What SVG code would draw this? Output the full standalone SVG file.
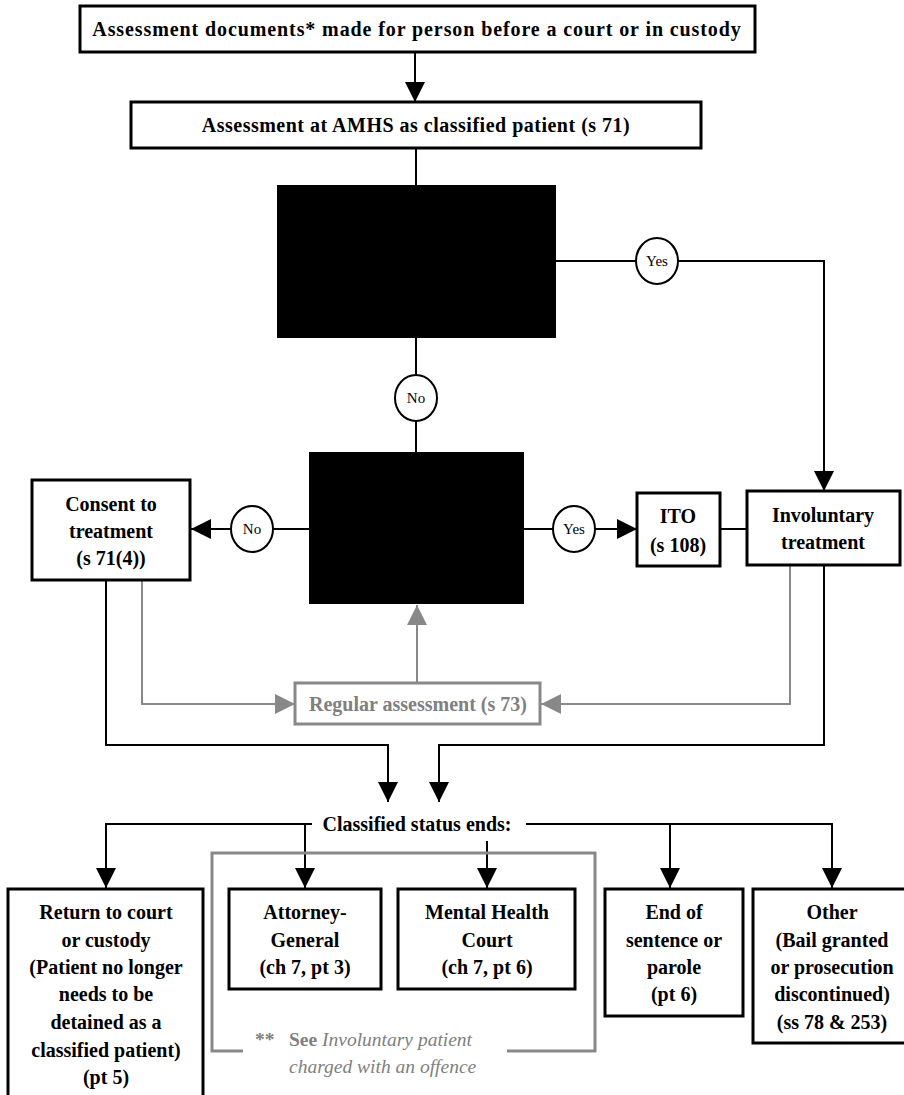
<svg xmlns="http://www.w3.org/2000/svg" width="904" height="1095" viewBox="0 0 904 1095">
<defs>
<style>
.box{fill:#fff;stroke:#000;stroke-width:3}
.gbox{fill:#fff;stroke:#888;stroke-width:3}
.blk{fill:#000;stroke:none}
.t{font-family:"Liberation Serif","Times New Roman",serif;font-weight:bold;font-size:20px;fill:#000;text-anchor:middle}
.gt{font-family:"Liberation Serif","Times New Roman",serif;font-weight:bold;font-size:20px;fill:#808080;text-anchor:middle}
.ot{font-family:"Liberation Serif","Times New Roman",serif;font-size:15px;fill:#000;text-anchor:middle}
.oval{fill:#fff;stroke:#000;stroke-width:2}
.ln{fill:none;stroke:#000;stroke-width:2}
.gln{fill:none;stroke:#888;stroke-width:2}
.note{font-family:"Liberation Serif","Times New Roman",serif;font-size:19.5px;fill:#808080}
</style>
<marker id="ahb" viewBox="0 0 10 10" refX="10" refY="5" markerWidth="20" markerHeight="20" markerUnits="userSpaceOnUse" orient="auto"><path d="M0,0 L10,5 L0,10 Z" fill="#000"/></marker>
<marker id="ahg" viewBox="0 0 10 10" refX="10" refY="5" markerWidth="20" markerHeight="20" markerUnits="userSpaceOnUse" orient="auto"><path d="M0,0 L10,5 L0,10 Z" fill="#888"/></marker>
</defs>
<rect width="904" height="1095" fill="#fff"/>

<g id="connectors">
<path class="ln" d="M415,52 V102" marker-end="url(#ahb)"/>
<path class="ln" d="M416,148 V185"/>
<path class="ln" d="M556,261 H824 V491" marker-end="url(#ahb)"/>
<path class="ln" d="M416,338 V452"/>
<path class="ln" d="M309,529 H191" marker-end="url(#ahb)"/>
<path class="ln" d="M524,529 H637" marker-end="url(#ahb)"/>
<path class="ln" d="M720,529 H747"/>
<path class="gln" d="M142,581 V704 H295" marker-end="url(#ahg)"/>
<path class="gln" d="M790,565 V704 H541" marker-end="url(#ahg)"/>
<path class="gln" d="M417,683 V605" marker-end="url(#ahg)"/>
<path class="ln" d="M106,581 V745 H388 V802" marker-end="url(#ahb)"/>
<path class="ln" d="M824,565 V745 H439 V802" marker-end="url(#ahb)"/>
<path class="ln" d="M312,824 H106 V888" marker-end="url(#ahb)"/>
<path class="ln" d="M305,824 V888" marker-end="url(#ahb)"/>
<path class="ln" d="M487,841 V888" marker-end="url(#ahb)"/>
<path class="ln" d="M526,824 H832 V888" marker-end="url(#ahb)"/>
<path class="ln" d="M670,824 V888" marker-end="url(#ahb)"/>
<path fill="none" stroke="#888" stroke-width="3" d="M243,1051 H212 V853 H595 V1051 H507"/>
</g>

<g id="n-top"><rect class="box" x="80" y="6" width="675" height="46"/><text class="t" x="417" y="36" letter-spacing="0.9">Assessment documents* made for person before a court or in custody</text></g>
<g id="n-amhs"><rect class="box" x="131" y="102" width="570" height="46"/><text class="t" x="416" y="132" letter-spacing="0.5">Assessment at AMHS as classified patient  (s 71)</text></g>
<g id="n-decision1"><rect class="blk" x="277" y="185" width="279" height="153"/></g>
<g id="n-yes1"><ellipse class="oval" cx="657" cy="261" rx="21" ry="23"/><text class="ot" x="657" y="266">Yes</text></g>
<g id="n-no1"><ellipse class="oval" cx="416" cy="398" rx="21" ry="23"/><text class="ot" x="416" y="403">No</text></g>
<g id="n-decision2"><rect class="blk" x="309" y="452" width="215" height="152"/></g>
<g id="n-no2"><ellipse class="oval" cx="252" cy="529" rx="21" ry="23"/><text class="ot" x="252" y="534">No</text></g>
<g id="n-yes2"><ellipse class="oval" cx="574" cy="529" rx="21" ry="23"/><text class="ot" x="574" y="534">Yes</text></g>
<g id="n-consent"><rect class="box" x="32" y="480" width="158" height="100"/><text class="t" x="111" y="511">Consent to</text><text class="t" x="111" y="538">treatment</text><text class="t" x="111" y="565">(s 71(4))</text></g>
<g id="n-ito"><rect class="box" x="637" y="493" width="83" height="73"/><text class="t" x="678" y="523">ITO</text><text class="t" x="678" y="552">(s 108)</text></g>
<g id="n-invol"><rect class="box" x="747" y="491" width="153" height="74"/><text class="t" x="823" y="522">Involuntary</text><text class="t" x="823" y="549">treatment</text></g>
<g id="n-regular"><rect class="gbox" x="295" y="683" width="245" height="41"/><text class="gt" x="418" y="711">Regular assessment  (s 73)</text></g>
<g id="n-ends"><text class="t" x="417" y="831" font-size="18">Classified status ends:</text></g>
<g id="n-return"><rect class="box" x="8" y="889" width="195" height="220"/><text class="t" x="106" y="919">Return to court</text><text class="t" x="106" y="947">or custody</text><text class="t" x="106" y="974">(Patient no longer</text><text class="t" x="106" y="1001">needs to be</text><text class="t" x="106" y="1029">detained as a</text><text class="t" x="106" y="1057">classified patient)</text><text class="t" x="106" y="1084">(pt 5)</text></g>
<g id="n-ag"><rect class="box" x="229" y="889" width="152" height="100"/><text class="t" x="305" y="919">Attorney-</text><text class="t" x="305" y="947">General</text><text class="t" x="305" y="974">(ch 7, pt 3)</text></g>
<g id="n-mhc"><rect class="box" x="398" y="889" width="177" height="100"/><text class="t" x="487" y="919">Mental Health</text><text class="t" x="487" y="947">Court</text><text class="t" x="487" y="974">(ch 7, pt 6)</text></g>
<g id="n-end"><rect class="box" x="605" y="889" width="138" height="127"/><text class="t" x="674" y="919">End of</text><text class="t" x="674" y="947">sentence or</text><text class="t" x="674" y="974">parole</text><text class="t" x="674" y="1001">(pt 6)</text></g>
<g id="n-other"><rect class="box" x="753" y="889" width="155" height="154"/><text class="t" x="832" y="919">Other</text><text class="t" x="832" y="947">(Bail granted</text><text class="t" x="832" y="974">or prosecution</text><text class="t" x="832" y="1001">discontinued)</text><text class="t" x="832" y="1029">(ss 78 &amp; 253)</text></g>
<g id="n-note"><text class="note" x="255" y="1046" font-weight="bold">**</text><text class="note" x="289" y="1046"><tspan font-weight="bold">See </tspan><tspan font-style="italic">Involuntary patient</tspan></text><text class="note" x="289" y="1073" font-style="italic">charged with an offence</text></g>
</svg>
